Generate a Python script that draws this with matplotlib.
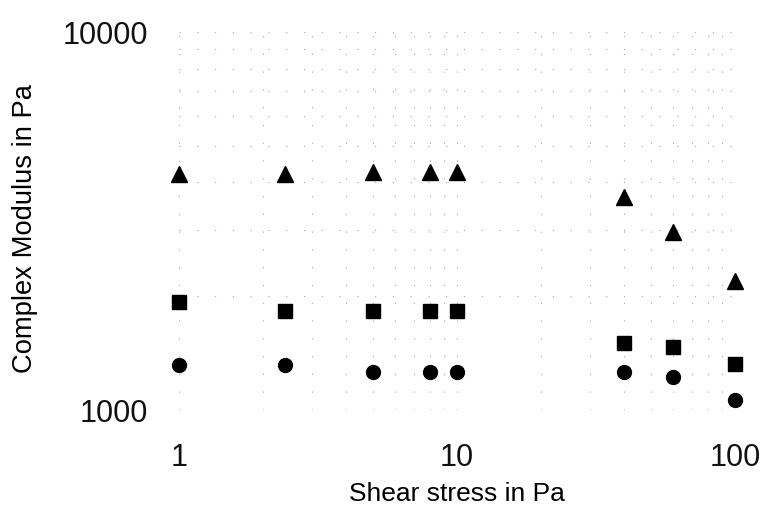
import matplotlib
matplotlib.use("Agg")
import matplotlib.pyplot as plt
from matplotlib.ticker import FixedLocator, FixedFormatter, LogLocator, NullFormatter

plt.rcParams['font.family'] = ['Liberation Sans', 'DejaVu Sans']

shear_stress = [1, 2.4, 5, 8, 10, 40, 60, 100]
modulus_triangle = [4200, 4200, 4250, 4250, 4250, 3650, 2950, 2200]
modulus_square = [1930, 1830, 1830, 1830, 1830, 1500, 1470, 1320]
modulus_circle = [1315, 1315, 1260, 1260, 1260, 1260, 1225, 1065]

x_ticks = [1, 10, 100]
x_tick_labels = ["1", "10", "100"]
y_ticks = [1000, 10000]
y_tick_labels = ["1000", "10000"]

W, H = 772, 529
fig = plt.figure(figsize=(W / 100, H / 100), dpi=100)
left, right, top, bottom = 179, 735, 32, 410
ax = fig.add_axes([left / W, 1 - bottom / H, (right - left) / W, (bottom - top) / H])

ax.set_xscale('log')
ax.set_yscale('log')
ax.set_xlim(1, 100)
ax.set_ylim(1000, 10000)

ax.grid(True, which='both', color='0.65', linestyle=(0, (1, 15)), linewidth=0.8)
ax.set_axisbelow(True)

ax.plot(shear_stress, modulus_triangle, linestyle='none', marker='^', markersize=11.5,
        color='black', clip_on=False, zorder=3)
ax.plot(shear_stress, modulus_square, linestyle='none', marker='s', markersize=10,
        color='black', clip_on=False, zorder=3)
ax.plot(shear_stress, modulus_circle, linestyle='none', marker='o', markersize=10,
        color='black', clip_on=False, zorder=3)

ax.xaxis.set_major_locator(FixedLocator(x_ticks))
ax.xaxis.set_major_formatter(FixedFormatter(x_tick_labels))
ax.yaxis.set_major_locator(FixedLocator(y_ticks))
ax.yaxis.set_major_formatter(FixedFormatter(y_tick_labels))
ax.xaxis.set_minor_locator(LogLocator(base=10, subs=range(2, 10)))
ax.yaxis.set_minor_locator(LogLocator(base=10, subs=range(2, 10)))
ax.xaxis.set_minor_formatter(NullFormatter())
ax.yaxis.set_minor_formatter(NullFormatter())

ax.tick_params(which='both', length=0)
ax.tick_params(axis='x', labelsize=22, pad=24, colors='#111111')
ax.tick_params(axis='y', labelsize=22, pad=22, colors='#111111')

for s in ax.spines.values():
    s.set_visible(False)

ax.set_xlabel("Shear stress in Pa", fontsize=19, labelpad=6, color='black')
ax.set_ylabel("Complex Modulus in Pa", fontsize=19.7, color='black')
ax.yaxis.set_label_coords(-(left - 38) / (right - left), 0.48)

fig.savefig("out.png", dpi=100, facecolor='white')
